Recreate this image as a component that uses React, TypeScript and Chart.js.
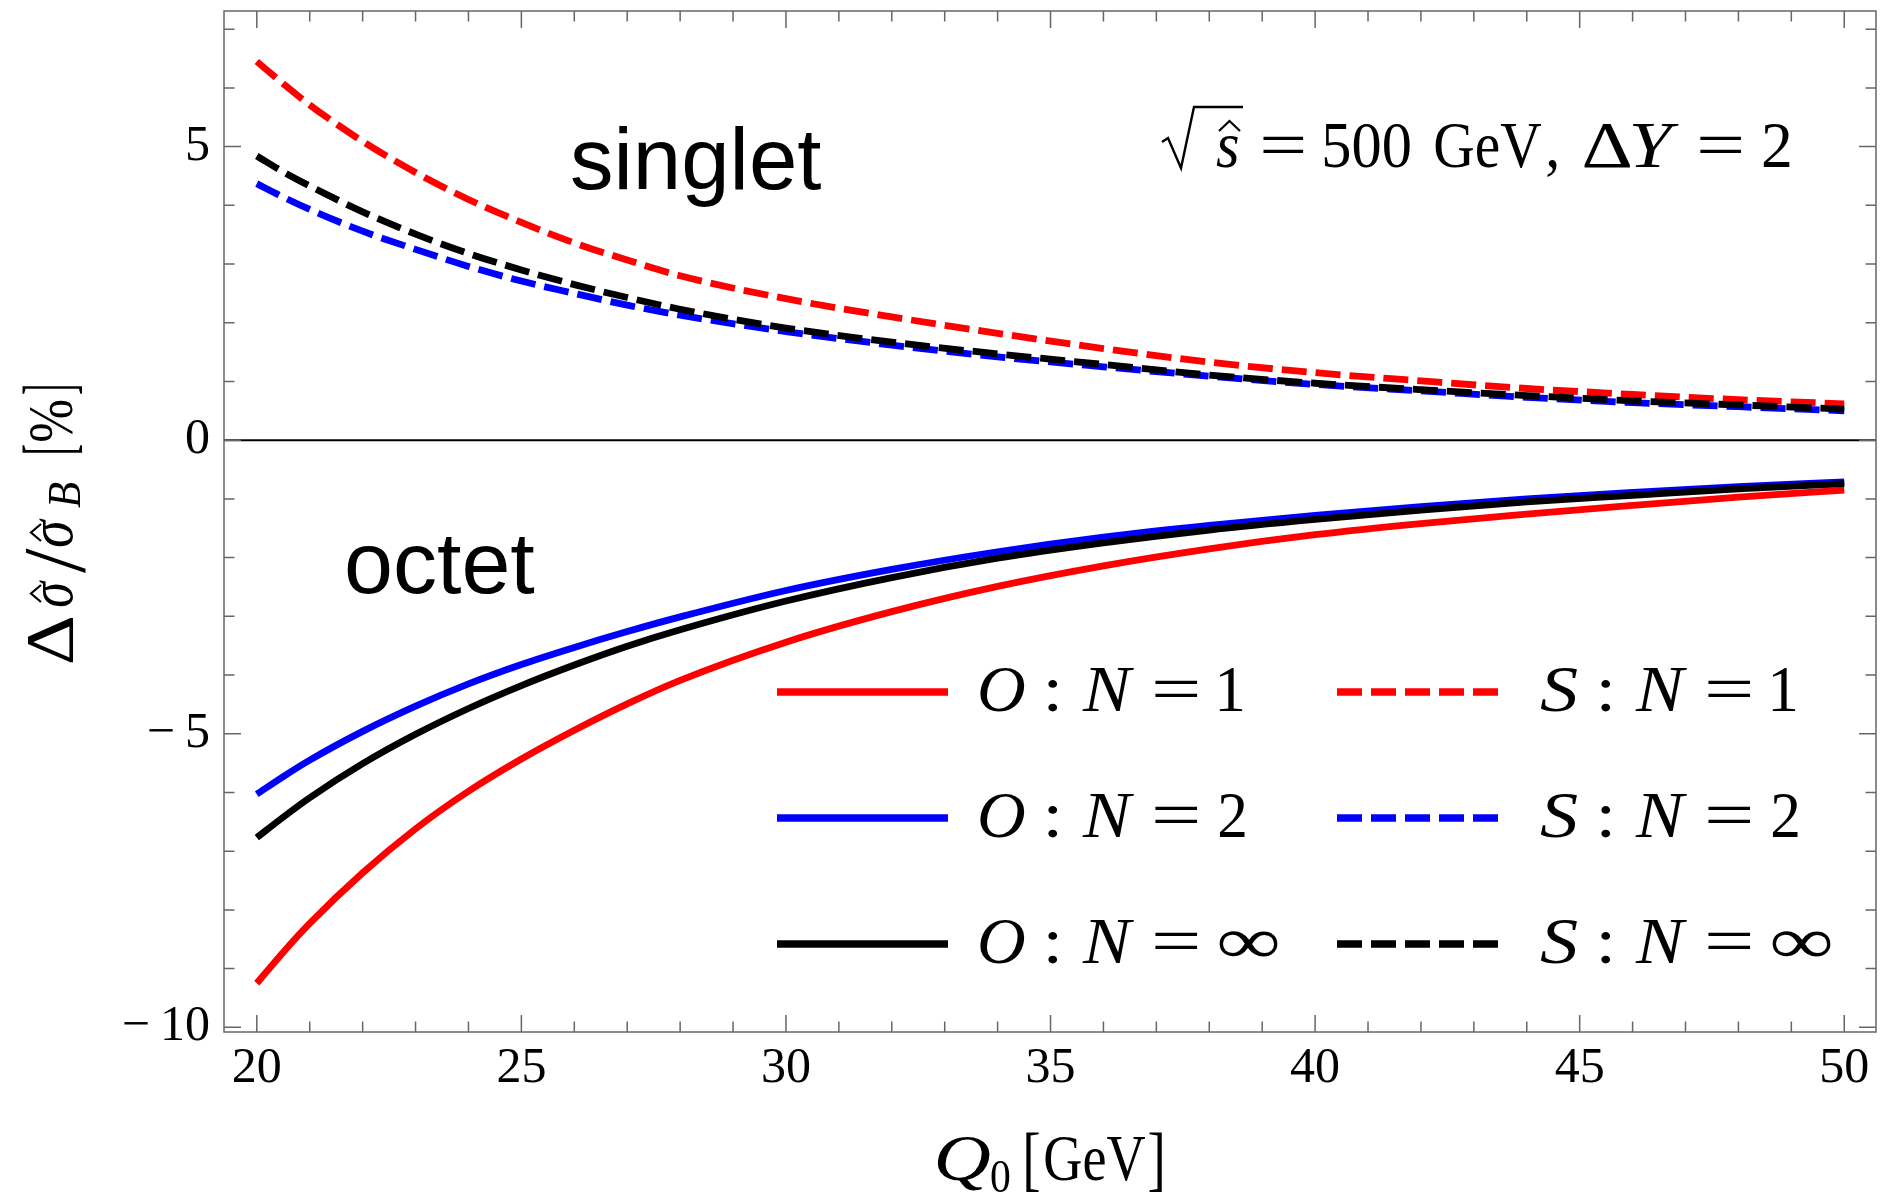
import React, { useEffect, useRef } from "react";
import { Chart, registerables } from "chart.js";

Chart.register(...registerables);

// ---------------- data ----------------
const Q0 = [20, 20.5, 21, 22, 23, 24, 25, 26, 27, 28, 30, 32, 34, 36, 38, 40, 42, 44, 46, 48, 50];
const O_N1 = [-9.25, -8.72, -8.23, -7.37, -6.62, -5.98, -5.43, -4.94, -4.49, -4.09, -3.44, -2.92, -2.49, -2.14, -1.85, -1.61, -1.42, -1.26, -1.11, -0.97, -0.85];
const O_N2 = [-6.03, -5.73, -5.45, -4.96, -4.53, -4.15, -3.82, -3.53, -3.26, -3.01, -2.56, -2.2, -1.9, -1.65, -1.45, -1.28, -1.13, -1.0, -0.89, -0.79, -0.71];
const O_NINF = [-6.77, -6.42, -6.09, -5.51, -5.01, -4.57, -4.18, -3.83, -3.51, -3.23, -2.74, -2.34, -2.01, -1.75, -1.53, -1.35, -1.19, -1.05, -0.94, -0.83, -0.74];
const S_N1 = [6.45, 6.07, 5.71, 5.09, 4.56, 4.1, 3.71, 3.36, 3.07, 2.8, 2.41, 2.1, 1.82, 1.56, 1.33, 1.15, 1.01, 0.88, 0.78, 0.69, 0.62];
const S_N2 = [4.37, 4.14, 3.93, 3.56, 3.25, 2.96, 2.71, 2.5, 2.3, 2.13, 1.85, 1.62, 1.42, 1.25, 1.09, 0.95, 0.84, 0.73, 0.64, 0.57, 0.5];
const S_NINF = [4.84, 4.57, 4.33, 3.89, 3.51, 3.18, 2.9, 2.65, 2.43, 2.23, 1.91, 1.67, 1.47, 1.29, 1.11, 0.97, 0.86, 0.76, 0.67, 0.6, 0.53];

const SERIES_LABELS = ["O : N = 1", "O : N = 2", "O : N = \u221E", "S : N = 1", "S : N = 2", "S : N = \u221E"];
const SERIES_VALUES = [O_N1, O_N2, O_NINF, S_N1, S_N2, S_NINF];

const X_TICKS = [20, 25, 30, 35, 40, 45, 50];
const Y_TICKS = [-10, -5, 0, 5];
const X_RANGE = [19.38, 50.6];
const Y_RANGE = [-10.08, 7.31];

const REGION_LABELS = ["singlet", "octet"];

// ---------------- styles ----------------
const SERIES_COLORS = ["#ff0000", "#0000ff", "#000000", "#ff0000", "#0000ff", "#000000"];
const SERIES_DASHED = [false, false, false, true, true, true];
const SERIES_ORDER = [3, 2, 1, 3, 2, 1];
const DASH = [25, 9];

const SERIF = '"Liberation Serif", "Times New Roman", serif';
const SANS = '"Liberation Sans", Arial, sans-serif';
const FRAME = "#666666";

// draw text so that its ink spans [x1, x2] horizontally, on baseline y
function drawFit(ctx: CanvasRenderingContext2D, t: string, x1: number, x2: number, y: number, size: number, it = false) {
  ctx.save();
  ctx.font = `${it ? "italic " : ""}${size}px ${SERIF}`;
  ctx.textAlign = "left";
  ctx.textBaseline = "alphabetic";
  ctx.fillStyle = "#000";
  const m = ctx.measureText(t);
  const inkW = m.actualBoundingBoxRight + m.actualBoundingBoxLeft;
  const sx = inkW > 0 ? (x2 - x1) / inkW : 1;
  ctx.translate(x1 + m.actualBoundingBoxLeft * sx, y);
  ctx.scale(sx, 1);
  ctx.fillText(t, 0, 0);
  ctx.restore();
}

function drawHat(ctx: CanvasRenderingContext2D, l: number, r: number, top: number, bottom: number) {
  ctx.save();
  ctx.strokeStyle = "#000";
  ctx.lineWidth = 2.2;
  ctx.lineJoin = "miter";
  ctx.beginPath();
  ctx.moveTo(l, bottom);
  ctx.lineTo((l + r) / 2, top);
  ctx.lineTo(r, bottom);
  ctx.stroke();
  ctx.restore();
}

const framePlugin = {
  id: "framePlugin",
  beforeDatasetsDraw(chart: any) {
    const { ctx, chartArea: a, scales } = chart;
    const y0 = scales.y.getPixelForValue(0);
    ctx.save();
    ctx.strokeStyle = "#000";
    ctx.lineWidth = 2;
    ctx.beginPath();
    ctx.moveTo(a.left, y0);
    ctx.lineTo(a.right, y0);
    ctx.stroke();
    ctx.restore();
  },
  afterDatasetsDraw(chart: any) {
    const { ctx, chartArea: a, scales } = chart;
    ctx.save();
    ctx.strokeStyle = FRAME;
    ctx.lineWidth = 1.5;
    ctx.strokeRect(a.left, a.top, a.right - a.left, a.bottom - a.top);
    ctx.beginPath();
    for (let v = Math.ceil(X_RANGE[0]); v <= X_RANGE[1]; v++) {
      const px = scales.x.getPixelForValue(v);
      const len = v % 5 === 0 ? 17 : 10.5;
      ctx.moveTo(px, a.bottom);
      ctx.lineTo(px, a.bottom - len);
      ctx.moveTo(px, a.top);
      ctx.lineTo(px, a.top + len);
    }
    for (let v = Math.ceil(Y_RANGE[0]); v <= Y_RANGE[1]; v++) {
      const py = scales.y.getPixelForValue(v);
      const len = v % 5 === 0 ? 17 : 10.5;
      ctx.moveTo(a.left, py);
      ctx.lineTo(a.left + len, py);
      ctx.moveTo(a.right, py);
      ctx.lineTo(a.right - len, py);
    }
    ctx.stroke();
    ctx.restore();
  },
};

const textPlugin = {
  id: "textPlugin",
  afterDraw(chart: any) {
    const ctx: CanvasRenderingContext2D = chart.ctx;
    ctx.save();
    // region labels
    ctx.fillStyle = "#000";
    ctx.textBaseline = "alphabetic";
    ctx.textAlign = "left";
    ctx.font = `87px ${SANS}`;
    ctx.fillText(REGION_LABELS[0], 570, 189);
    ctx.font = `88px ${SANS}`;
    ctx.fillText(REGION_LABELS[1], 344, 593);

    // annotation: sqrt(s^) = 500 GeV, ΔY = 2
    const F = 66;
    const b = 167;
    ctx.strokeStyle = "#000";
    ctx.lineWidth = 2.4;
    ctx.beginPath();
    ctx.moveTo(1162, 142);
    ctx.lineTo(1168, 138);
    ctx.lineTo(1181, 168);
    ctx.lineTo(1194, 107);
    ctx.lineTo(1243, 107);
    ctx.stroke();
    drawFit(ctx, "s", 1216, 1238, b, F, true);
    drawHat(ctx, 1219, 1240, 121, 131);
    drawFit(ctx, "=", 1263, 1303, b, F);
    drawFit(ctx, "500", 1324, 1410, b, F);
    drawFit(ctx, "GeV", 1435, 1541, b, F);
    drawFit(ctx, ",", 1547, 1557, b, F);
    drawFit(ctx, "\u0394", 1584, 1630, b, F);
    drawFit(ctx, "Y", 1632, 1679, b, F, true);
    drawFit(ctx, "=", 1700, 1741, b, F);
    drawFit(ctx, "2", 1763, 1790, b, F);

    // x axis title: Q0 [GeV]
    const xb = 1180;
    drawFit(ctx, "Q", 937, 990, xb, F, true);
    drawFit(ctx, "0", 991, 1010, xb + 12, 46);
    drawFit(ctx, "[", 1026, 1039, xb + 2, 72);
    drawFit(ctx, "GeV", 1045, 1145, xb, F);
    drawFit(ctx, "]", 1149, 1162, xb + 2, 72);

    // y axis title (rotated), local x = distance along text from its start
    ctx.save();
    ctx.translate(72, 663);
    ctx.rotate(-Math.PI / 2);
    drawFit(ctx, "\u0394", 0, 46, 0, 68);
    drawFit(ctx, "\u03C3", 56, 83, 0, 64, true);
    drawHat(ctx, 61, 78, -41, -31);
    drawFit(ctx, "/", 90, 115, 12, 88);
    drawFit(ctx, "\u03C3", 116, 145, 0, 64, true);
    drawHat(ctx, 122, 139, -41, -31);
    drawFit(ctx, "B", 155, 181, 8, 46, true);
    drawFit(ctx, "[", 210, 218, 0, 72);
    drawFit(ctx, "%", 222, 263, 0, 64);
    drawFit(ctx, "]", 269, 277, 0, 72);
    ctx.restore();

    // legend
    const datasets = chart.data.datasets;
    const rowsY = [692, 818, 944];
    const lineX = [[777, 948], [1337, 1499]];
    const baseX = [980, 1533];
    const letterExt: Record<string, number[]> = { O: [0, 45], S: [7, 44] };
    const valueExt: Record<string, number[]> = { "1": [239, 263], "2": [239, 265], "\u221E": [239, 298] };
    datasets.forEach((ds: any, i: number) => {
      const col = i < 3 ? 0 : 1;
      const row = i % 3;
      const y = rowsY[row];
      ctx.save();
      ctx.strokeStyle = ds.borderColor;
      ctx.lineWidth = 7.5;
      ctx.lineCap = "butt";
      ctx.setLineDash(ds.borderDash || []);
      ctx.beginPath();
      ctx.moveTo(lineX[col][0], y);
      ctx.lineTo(lineX[col][1], y);
      ctx.stroke();
      ctx.restore();
      const toks = String(ds.label).split(" ");
      const x0 = baseX[col];
      const tb = y + 19;
      const LF = 66;
      const le = letterExt[toks[0]] || [0, 45];
      drawFit(ctx, toks[0], x0 + le[0], x0 + le[1], tb, LF, true);
      drawFit(ctx, toks[1], x0 + 68, x0 + 77, tb, LF);
      drawFit(ctx, toks[2], x0 + 102, x0 + 155, tb, LF, true);
      drawFit(ctx, toks[3], x0 + 175, x0 + 217, tb, LF);
      const ve = valueExt[toks[4]] || [239, 263];
      drawFit(ctx, toks[4], x0 + ve[0], x0 + ve[1], tb, LF);
    });
    ctx.restore();
  },
};

export default function App() {
  const ref = useRef<HTMLCanvasElement | null>(null);
  useEffect(() => {
    if (!ref.current) return;
    const datasets = SERIES_LABELS.map((label, i) => ({
      label,
      data: Q0.map((x, j) => ({ x, y: SERIES_VALUES[i][j] })),
      borderColor: SERIES_COLORS[i],
      backgroundColor: SERIES_COLORS[i],
      borderWidth: 6.8,
      borderDash: SERIES_DASHED[i] ? DASH : [],
      borderCapStyle: "butt" as const,
      pointRadius: 0,
      fill: false,
      cubicInterpolationMode: "monotone" as const,
      order: SERIES_ORDER[i],
    }));
    const chart = new Chart(ref.current, {
      type: "line",
      data: { datasets },
      options: {
        animation: false,
        responsive: false,
        devicePixelRatio: 1,
        layout: { padding: { top: 11, right: 4, left: 0, bottom: 0 } },
        plugins: { legend: { display: false }, tooltip: { enabled: false } },
        scales: {
          x: {
            type: "linear",
            min: X_RANGE[0],
            max: X_RANGE[1],
            grid: { display: false, drawTicks: false },
            border: { display: false },
            afterBuildTicks: (s: any) => {
              s.ticks = X_TICKS.map((v) => ({ value: v }));
            },
            afterFit: (s: any) => {
              s.height = 164;
              s.paddingLeft = 0;
              s.paddingRight = 0;
            },
            ticks: {
              padding: 7,
              autoSkip: false,
              maxRotation: 0,
              color: "#000",
              font: { family: SERIF, size: 50 },
              callback: (v: any) => String(v),
            },
          },
          y: {
            type: "linear",
            min: Y_RANGE[0],
            max: Y_RANGE[1],
            grid: { display: false, drawTicks: false },
            border: { display: false },
            afterBuildTicks: (s: any) => {
              s.ticks = Y_TICKS.map((v) => ({ value: v }));
            },
            afterFit: (s: any) => {
              s.width = 224;
              s.paddingTop = 0;
              s.paddingBottom = 0;
            },
            ticks: {
              padding: 14,
              autoSkip: false,
              color: "#000",
              font: { family: SERIF, size: 50 },
              callback: (v: any) => (Number(v) < 0 ? "\u2212\u2009" + Math.abs(Number(v)) : String(v)),
            },
          },
        },
      },
      plugins: [framePlugin, textPlugin],
    });
    return () => chart.destroy();
  }, []);
  return (
    <div style={{ position: "fixed", left: 0, top: 0, width: 1880, height: 1196, background: "#fff" }}>
      <canvas ref={ref} width={1880} height={1196} style={{ display: "block" }} />
    </div>
  );
}
